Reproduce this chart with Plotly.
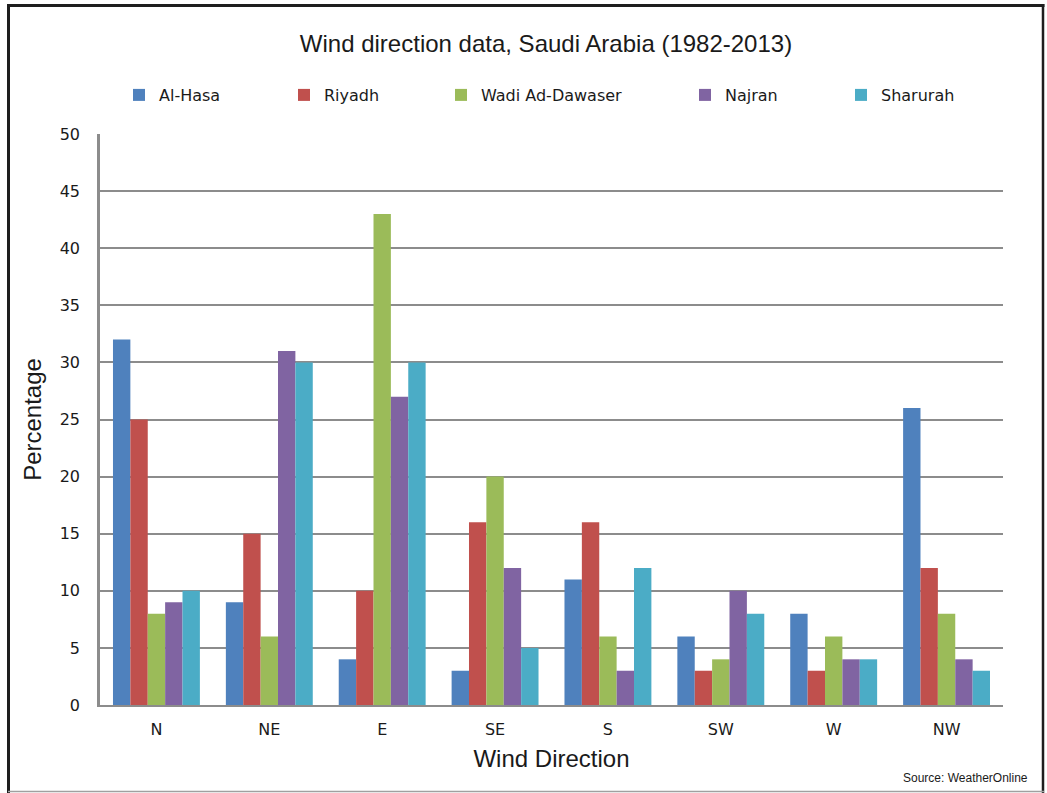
import plotly.graph_objects as go

# Wind direction frequency (%) by station, 1982-2013
directions = ["N", "NE", "E", "SE", "S", "SW", "W", "NW"]
al_hasa = [32, 9, 4, 3, 11, 6, 8, 26]
riyadh = [25, 15, 10, 16, 16, 3, 3, 12]
wadi_ad_dawaser = [8, 6, 43, 20, 6, 4, 6, 8]
najran = [9, 31, 27, 12, 3, 10, 4, 4]
sharurah = [10, 30, 30, 5, 12, 8, 4, 3]

stations = ["Al-Hasa", "Riyadh", "Wadi Ad-Dawaser", "Najran", "Sharurah"]
series = [al_hasa, riyadh, wadi_ad_dawaser, najran, sharurah]
colors = ["#4F81BD", "#C0504D", "#9BBB59", "#8064A2", "#4BACC6"]

W, H = 1047, 793
L, R, T, B = 100, 44, 134, 88
pw, ph = W - L - R, H - T - B


def px(xp):
    return (xp - L) / pw


def py(yp):
    return (H - B - yp) / ph


# each station gets its own legend box, spaced along the top row
legend_left = [119, 284, 441, 685, 841]
legend_ids = ["legend", "legend2", "legend3", "legend4", "legend5"]

fig = go.Figure()
for name, vals, col, lid in zip(stations, series, colors, legend_ids):
    fig.add_trace(go.Bar(
        x=directions, y=vals, name=name,
        marker=dict(color=col, line=dict(width=0)),
        legend=lid, showlegend=True,
    ))

legend_font = dict(family="DejaVu Sans", size=16, color="#1a1a1a")
legend_layouts = {}
for lid, lx in zip(legend_ids, legend_left):
    legend_layouts[lid] = dict(
        orientation="h", x=px(lx), xanchor="left",
        y=py(95), yanchor="middle",
        font=legend_font, itemwidth=30, bgcolor="rgba(0,0,0,0)",
    )

fig.update_layout(
    width=W, height=H,
    showlegend=True,
    margin=dict(l=L, r=R, t=T, b=B, pad=0),
    paper_bgcolor="white", plot_bgcolor="white",
    barmode="group", bargap=0.23, bargroupgap=0,
    font=dict(family="DejaVu Sans", color="#1a1a1a"),
    title=dict(
        text="Wind direction data, Saudi Arabia (1982-2013)",
        font=dict(family="Liberation Sans, Arial", size=24, color="#1a1a1a"),
        x=px(546), xref="paper", xanchor="center",
        y=1 - 44 / H, yref="container", yanchor="middle",
    ),
    xaxis=dict(
        showgrid=False, showline=True, linecolor="#8c8c8c", linewidth=2,
        ticks="", tickfont=dict(family="DejaVu Sans", size=16, color="#1a1a1a"),
        ticklabelstandoff=9,
        title=dict(text="Wind Direction", standoff=12,
                   font=dict(family="Liberation Sans, Arial", size=24, color="#1a1a1a")),
    ),
    yaxis=dict(
        range=[0, 50], dtick=5, tick0=0,
        showgrid=True, gridcolor="#8c8c8c", gridwidth=2,
        showline=True, linecolor="#8c8c8c", linewidth=2.5,
        zeroline=False, ticks="",
        tickfont=dict(family="DejaVu Sans", size=16, color="#1a1a1a"),
        ticklabelstandoff=14,
        title=dict(text="Percentage", standoff=12,
                   font=dict(family="Liberation Sans, Arial", size=24, color="#1a1a1a")),
    ),
    **legend_layouts,
)

# outer frame around the chart
frame_dark = "#1e1e1e"
fig.add_shape(type="line", xref="paper", yref="paper",
              x0=px(8.5), x1=px(8.5), y0=py(5.5), y1=py(793),
              line=dict(color=frame_dark, width=3))
fig.add_shape(type="line", xref="paper", yref="paper",
              x0=px(7), x1=px(1044.5), y0=py(5.5), y1=py(5.5),
              line=dict(color=frame_dark, width=3))
fig.add_shape(type="line", xref="paper", yref="paper",
              x0=px(1043), x1=px(1043), y0=py(4), y1=py(793),
              line=dict(color=frame_dark, width=2.5))
fig.add_shape(type="line", xref="paper", yref="paper",
              x0=px(8), x1=px(1044), y0=py(791.5), y1=py(791.5),
              line=dict(color="#a0a0a0", width=1.5))

fig.add_annotation(
    text="Source: WeatherOnline", xref="paper", yref="paper",
    x=px(1030), y=py(778), xanchor="right", yanchor="middle",
    showarrow=False, font=dict(family="Liberation Sans, Arial", size=12, color="#1a1a1a"),
)

fig.write_html("out.html")
